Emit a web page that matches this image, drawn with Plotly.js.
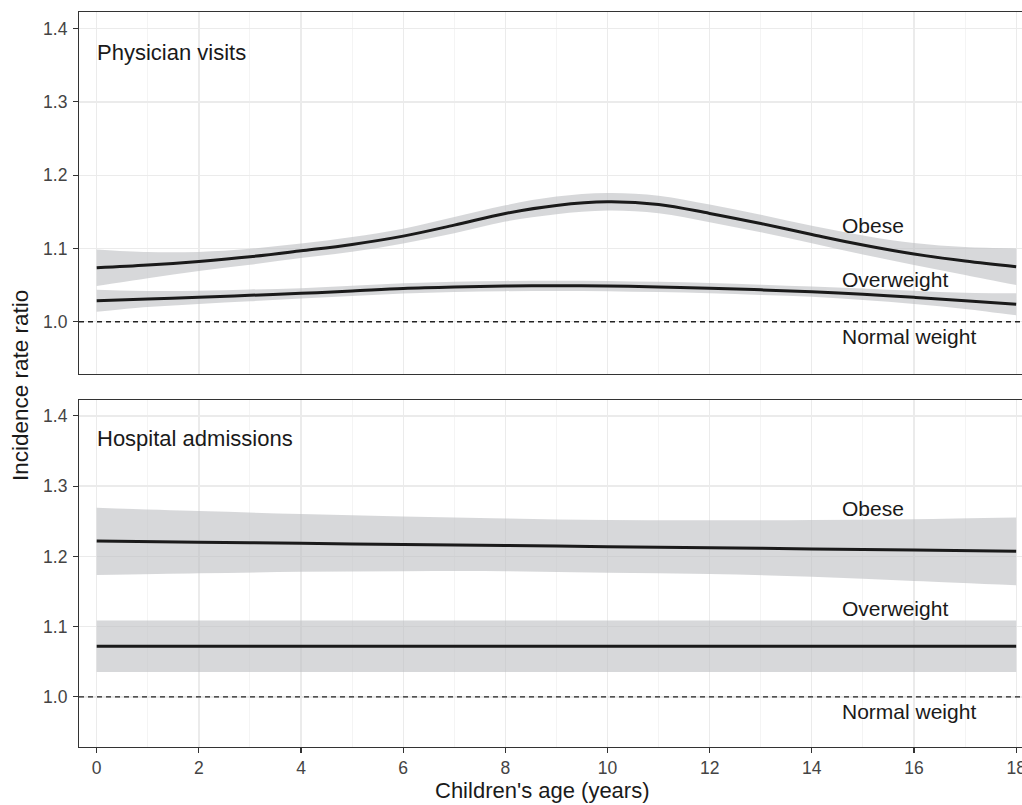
<!DOCTYPE html>
<html>
<head>
<meta charset="utf-8">
<script src="https://cdn.plot.ly/plotly-3.0.1.min.js"></script>
<style>html,body{margin:0;padding:0;background:#fff;}#chart{width:1022px;height:805px;}</style>
</head>
<body>
<div id="chart"></div>
<script>
// ---------- data ----------
const ages = [0,1,2,3,4,5,6,7,8,9,10,11,12,13,14,15,16,17,18];

// Physician visits (top panel)
const physObeseEst   = [1.0736,1.0773,1.0823,1.0886,1.0968,1.1055,1.1168,1.1318,1.1478,1.1587,1.1636,1.1600,1.1478,1.1340,1.1190,1.1046,1.0923,1.0828,1.0750];
const physObeseUpper = [1.0986,1.0950,1.0953,1.0996,1.1068,1.1155,1.1268,1.1428,1.1588,1.1707,1.1756,1.1720,1.1598,1.1460,1.1310,1.1176,1.1073,1.1018,1.1000];
const physObeseLower = [1.0486,1.0593,1.0693,1.0776,1.0868,1.0955,1.1068,1.1208,1.1368,1.1467,1.1516,1.1480,1.1358,1.1220,1.1070,1.0916,1.0773,1.0638,1.0500];

const physOverEst   = [1.0286,1.0310,1.0333,1.0360,1.0387,1.0420,1.0455,1.0475,1.0487,1.0490,1.0487,1.0475,1.0458,1.0435,1.0410,1.0375,1.0333,1.0285,1.0237];
const physOverUpper = [1.0436,1.0420,1.0423,1.0440,1.0457,1.0490,1.0525,1.0545,1.0557,1.0560,1.0557,1.0545,1.0528,1.0505,1.0480,1.0455,1.0423,1.0395,1.0387];
const physOverLower = [1.0136,1.0200,1.0243,1.0280,1.0317,1.0350,1.0385,1.0405,1.0417,1.0420,1.0417,1.0405,1.0388,1.0365,1.0340,1.0295,1.0243,1.0175,1.0087];

// Hospital admissions (bottom panel)
const agesHosp = [0,2,4,6,8,10,12,14,16,18];
const hospObeseEst   = [1.2218,1.2202,1.2186,1.2170,1.2154,1.2139,1.2123,1.2107,1.2091,1.2075];
const hospObeseUpper = [1.2692,1.2645,1.2603,1.2568,1.2540,1.2517,1.2513,1.2517,1.2530,1.2555];
const hospObeseLower = [1.1734,1.1760,1.1780,1.1790,1.1790,1.1767,1.1748,1.1710,1.1650,1.1590];

const agesHospOver = [0,18];
const hospOverEst   = [1.0722,1.0722];
const hospOverUpper = [1.1088,1.1088];
const hospOverLower = [1.0355,1.0355];

const referenceLevel = 1.0;
const yTicks = [1.0,1.1,1.2,1.3,1.4];
const yTickText = ['1.0','1.1','1.2','1.3','1.4'];
const xTicks = [0,2,4,6,8,10,12,14,16,18];

// ---------- styling ----------
const FONT = 'Liberation Sans, Arial, Helvetica, sans-serif';
const BAND = 'rgba(188,190,194,0.6)';
const LINE = '#1a1a1a';

function band(x, lo, hi, xa, ya) {
  return [
    {x: x, y: lo, xaxis: xa, yaxis: ya, type: 'scatter', mode: 'lines',
     line: {width: 0, shape: 'spline'}, hoverinfo: 'skip', showlegend: false},
    {x: x, y: hi, xaxis: xa, yaxis: ya, type: 'scatter', mode: 'lines',
     line: {width: 0, shape: 'spline'}, fill: 'tonexty', fillcolor: BAND,
     hoverinfo: 'skip', showlegend: false}
  ];
}
function est(x, y, xa, ya) {
  return {x: x, y: y, xaxis: xa, yaxis: ya, type: 'scatter', mode: 'lines',
          line: {color: LINE, width: 3, shape: 'spline'}, hoverinfo: 'skip', showlegend: false};
}

const traces = [].concat(
  band(ages, physObeseLower, physObeseUpper, 'x', 'y'),
  band(ages, physOverLower, physOverUpper, 'x', 'y'),
  band(agesHosp, hospObeseLower, hospObeseUpper, 'x2', 'y2'),
  band(agesHospOver, hospOverLower, hospOverUpper, 'x2', 'y2'),
  [est(ages, physObeseEst, 'x', 'y'),
   est(ages, physOverEst, 'x', 'y'),
   est(agesHosp, hospObeseEst, 'x2', 'y2'),
   est(agesHospOver, hospOverEst, 'x2', 'y2')]
);

const xRange = [-0.3465, 18.114];
const yRange = [0.9287, 1.4226];

function xAxis(anchor, showLabels) {
  return {
    anchor: anchor, range: xRange, domain: [0, 1],
    tickmode: 'array', tickvals: xTicks, ticktext: xTicks.map(String),
    showticklabels: showLabels, ticks: showLabels ? 'outside' : '',
    ticklen: 5, tickwidth: 1.1, tickcolor: '#333333',
    ticklabeloverflow: 'allow',
    tickfont: {family: FONT, size: 17.5, color: '#444444'},
    showgrid: true, gridcolor: '#ebebeb', gridwidth: 1.3,
    minor: {dtick: 1, tick0: 0, showgrid: true, gridcolor: '#f1f1f1', gridwidth: 0.8, ticks: ''},
    showline: true, linecolor: '#333333', linewidth: 1.1, mirror: true,
    zeroline: false, fixedrange: true
  };
}
function yAxis(anchor, domain) {
  return {
    anchor: anchor, range: yRange, domain: domain,
    tickmode: 'array', tickvals: yTicks, ticktext: yTickText,
    ticks: 'outside', ticklen: 5, tickwidth: 1.1, tickcolor: '#333333',
    ticklabelstandoff: 2,
    tickfont: {family: FONT, size: 17.5, color: '#444444'},
    showgrid: true, gridcolor: '#ebebeb', gridwidth: 1.3,
    showline: true, linecolor: '#333333', linewidth: 1.1, mirror: false,
    zeroline: false, fixedrange: true
  };
}

function label(text, x, y, xref, yref, size) {
  return {text: text, x: x, y: y, xref: xref, yref: yref, xanchor: 'left', yanchor: 'middle',
          showarrow: false, font: {family: FONT, size: size || 21, color: '#1a1a1a'}};
}

const layout = {
  width: 1022, height: 805,
  margin: {l: 79, r: 0, t: 12, b: 58, pad: 0},
  paper_bgcolor: '#ffffff', plot_bgcolor: '#ffffff',
  showlegend: false,
  xaxis: xAxis('y', false),
  yaxis: yAxis('x', [0.5075, 1]),
  xaxis2: Object.assign(xAxis('y2', true), {matches: 'x'}),
  yaxis2: yAxis('x2', [0, 0.4721]),
  shapes: [
    {type: 'line', xref: 'x domain', x0: 0, x1: 1, yref: 'y', y0: referenceLevel, y1: referenceLevel,
     line: {color: '#222222', width: 1.4, dash: '5px,4px'}},
    {type: 'line', xref: 'x2 domain', x0: 0, x1: 1, yref: 'y2', y0: referenceLevel, y1: referenceLevel,
     line: {color: '#222222', width: 1.4, dash: '5px,4px'}}
  ],
  annotations: [
    label('Physician visits', -0.03, 1.3677, 'x', 'y', 22),
    label('Obese', 14.55, 1.1318, 'x', 'y'),
    label('Overweight', 14.55, 1.0583, 'x', 'y'),
    label('Normal weight', 14.55, 0.9796, 'x', 'y'),
    label('Hospital admissions', -0.03, 1.3685, 'x2', 'y2', 22),
    label('Obese', 14.55, 1.2684, 'x2', 'y2'),
    label('Overweight', 14.55, 1.1259, 'x2', 'y2'),
    label('Normal weight', 14.55, 0.9796, 'x2', 'y2'),
    {text: 'Incidence rate ratio', xref: 'paper', yref: 'paper', x: -0.0626, y: 0.4925,
     xanchor: 'center', yanchor: 'middle', textangle: -90, showarrow: false,
     font: {family: FONT, size: 22.5, color: '#1a1a1a'}},
    {text: "Children's age (years)", xref: 'paper', yref: 'paper', x: 0.491, y: -0.0598,
     xanchor: 'center', yanchor: 'middle', showarrow: false,
     font: {family: FONT, size: 22, color: '#1a1a1a'}}
  ]
};

Plotly.newPlot('chart', traces, layout, {staticPlot: true, displayModeBar: false});
</script>
</body>
</html>
